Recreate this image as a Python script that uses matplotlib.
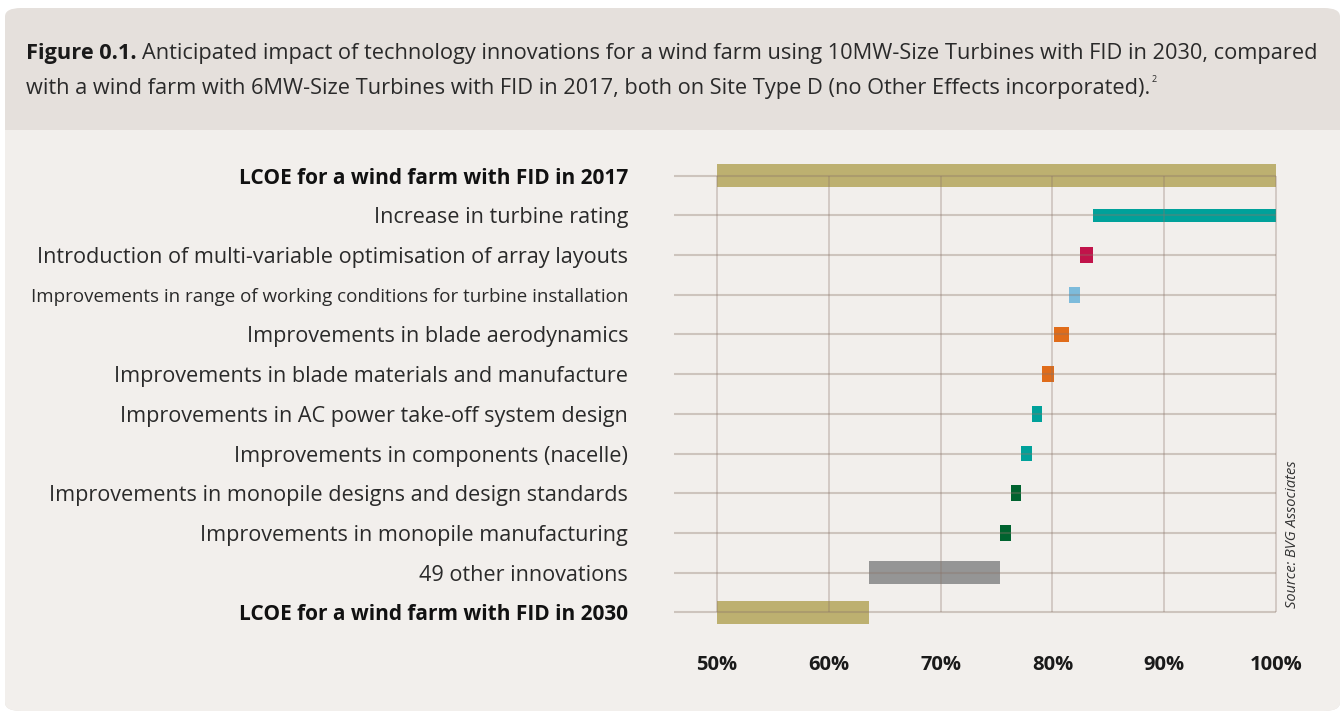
import matplotlib.pyplot as plt
from matplotlib.patches import FancyBboxPatch, Rectangle

# --- data ---
categories = [
    "LCOE for a wind farm with FID in 2017",
    "Increase in turbine rating",
    "Introduction of multi-variable optimisation of array layouts",
    "Improvements in range of working conditions for turbine installation",
    "Improvements in blade aerodynamics",
    "Improvements in blade materials and manufacture",
    "Improvements in AC power take-off system design",
    "Improvements in components (nacelle)",
    "Improvements in monopile designs and design standards",
    "Improvements in monopile manufacturing",
    "49 other innovations",
    "LCOE for a wind farm with FID in 2030",
]
start_lcoe = 100.0
# reduction (percentage points) for each innovation row
savings = [16.4, 1.1, 1.0, 1.4, 1.0, 0.9, 1.0, 0.9, 1.0, 11.7]
ticks = [50, 60, 70, 80, 90, 100]
tick_labels = ["50%", "60%", "70%", "80%", "90%", "100%"]

bar_colors = ["#BDB070", "#00A19A", "#C1134A", "#7DBBDB", "#E06C1A", "#E06C1A",
              "#00A19A", "#00A19A", "#00632F", "#00632F", "#959595", "#BDB070"]
bar_heights = [0.58, 0.35, 0.4, 0.4, 0.4, 0.4, 0.4, 0.4, 0.4, 0.4, 0.58, 0.58]

W, H = 1343, 715
fig = plt.figure(figsize=(W / 100, H / 100), dpi=100)
fig.patch.set_facecolor("white")
plt.rcParams["font.family"] = ["Open Sans", "DejaVu Sans"]


def fx(px):
    return px / W


def fy(py):
    return 1 - py / H


# background panel: title band + body
band = FancyBboxPatch((fx(5), fy(711)), fx(1335), (711 - 8) / H,
                      boxstyle="round,pad=0,rounding_size=0.012",
                      transform=fig.transFigure, fc="#E5E0DC", ec="none", zorder=-5)
body = FancyBboxPatch((fx(5), fy(711)), fx(1335), (711 - 130) / H,
                      boxstyle="round,pad=0,rounding_size=0.012",
                      transform=fig.transFigure, fc="#F2EFEC", ec="none", zorder=-4)
body_top = Rectangle((fx(5), fy(160)), fx(1335), 30 / H,
                     transform=fig.transFigure, fc="#F2EFEC", ec="none", zorder=-4)
fig.patches.extend([band, body, body_top])

# title: bold prefix followed by regular text
renderer = fig.canvas.get_renderer()
t1 = fig.text(fx(26), fy(59), "Figure 0.1.", fontsize=15.7, fontweight="bold",
              color="#1a1a1a", va="baseline")
bb = t1.get_window_extent(renderer)
fig.text(bb.x1 / W + fx(5), fy(59),
         "Anticipated impact of technology innovations for a wind farm using 10MW-Size "
         "Turbines with FID in 2030, compared",
         fontsize=15.7, color="#2a2a2a", va="baseline")
t2 = fig.text(fx(26), fy(94),
              "with a wind farm with 6MW-Size Turbines with FID in 2017, both on Site Type D "
              "(no Other Effects incorporated).",
              fontsize=15.7, color="#2a2a2a", va="baseline")
bb2 = t2.get_window_extent(renderer)
fig.text(bb2.x1 / W + fx(1), fy(82), "2", fontsize=6.5, color="#2a2a2a", va="baseline")

# chart axes: 46.15..101.25 across px 674..1290, rows at 175.7 + 39.7*i
ax = fig.add_axes([fx(674), fy(640), fx(1290 - 674), (640 - 150) / H])
ax.set_facecolor("none")
ax.set_xlim(46.15, 101.25)
ax.set_ylim(11.7, -0.65)

rows = list(range(len(categories)))
lefts, widths = [], []
level = start_lcoe
lefts.append(50)
widths.append(start_lcoe - 50)
for s in savings:
    lefts.append(level - s)
    widths.append(s)
    level -= s
lefts.append(50)
widths.append(level - 50)

ax.barh(rows, widths, left=lefts, height=bar_heights, color=bar_colors, zorder=1)

ax.hlines(rows, 46.15, 100, color="#8a7468", alpha=0.35, lw=1.5, zorder=2)
ax.vlines(ticks, rows[0], rows[-1], color="#8a7468", alpha=0.3, lw=1.4, zorder=2)

for sp in ax.spines.values():
    sp.set_visible(False)

ax.set_xticks(ticks)
ax.set_xticklabels(tick_labels, fontsize=14.5, fontweight="bold", color="#1a1a1a")
ax.tick_params(axis="x", length=0, pad=11)
ax.set_yticks(rows)
ax.set_yticklabels(categories, fontsize=15.6, color="#2a2a2a")
ax.tick_params(axis="y", length=0, pad=33)
for i, lab in enumerate(ax.get_yticklabels()):
    if i in (0, len(categories) - 1):
        lab.set_fontweight("bold")
        lab.set_color("#111111")
        lab.set_fontsize(15)
    if i == 3:
        lab.set_fontsize(13.5)

fig.text(fx(1293), fy(534), "Source: BVG Associates", rotation=90, fontsize=10.5,
         style="italic", color="#333333", ha="center", va="center")

fig.savefig("out.png", dpi=100, facecolor=fig.get_facecolor())
